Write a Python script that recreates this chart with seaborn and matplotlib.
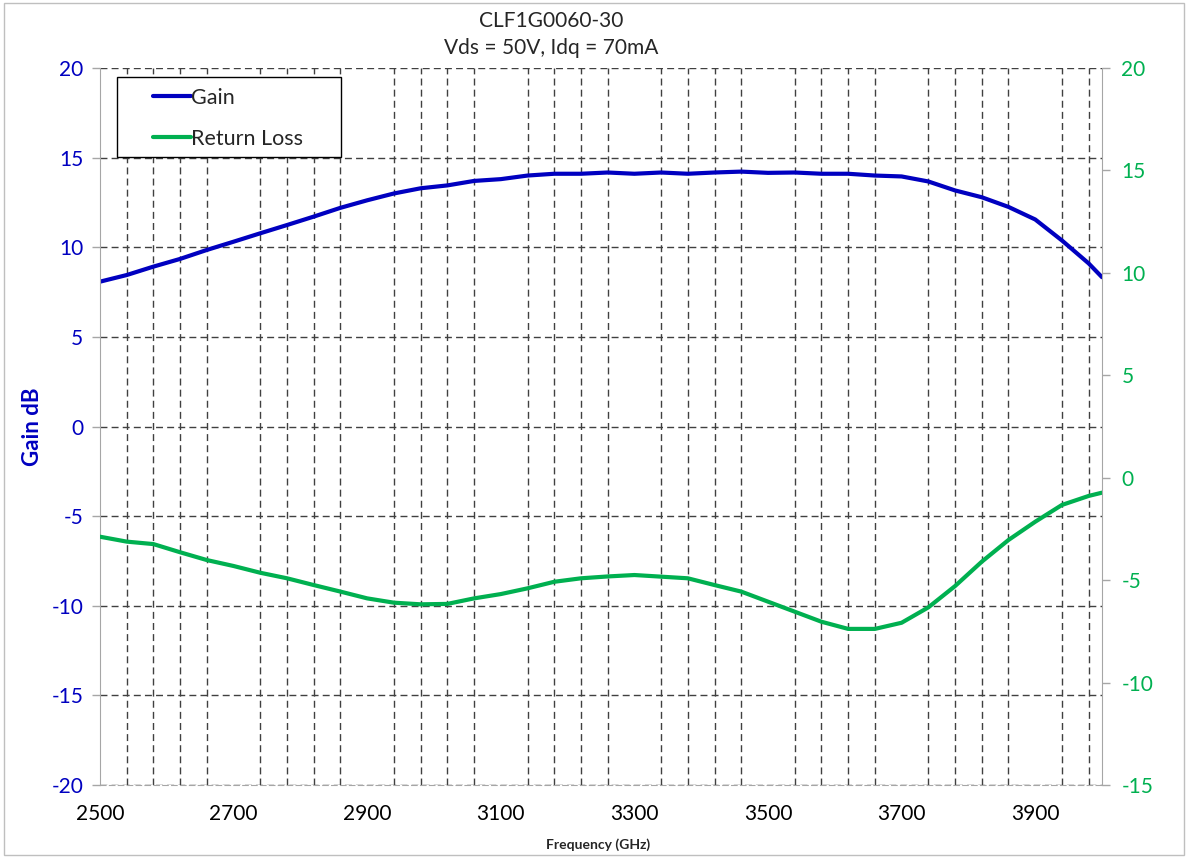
import numpy as np
import pandas as pd
import matplotlib
matplotlib.use("Agg")
import matplotlib.pyplot as plt
from matplotlib.ticker import MultipleLocator, FixedLocator
from matplotlib.patches import Rectangle
import seaborn as sns

# ---- data ----
freq = [2500, 2540, 2580, 2620, 2660, 2700, 2740, 2780, 2820, 2860, 2900, 2940, 2980,
        3020, 3060, 3100, 3140, 3180, 3220, 3260, 3300, 3340, 3380, 3420, 3460, 3500,
        3540, 3580, 3620, 3660, 3700, 3740, 3780, 3820, 3860, 3900, 3940, 3980, 4000]
gain = [8.08, 8.45, 8.92, 9.35, 9.85, 10.31, 10.78, 11.24, 11.71, 12.2, 12.62, 13.0, 13.29,
        13.45, 13.7, 13.8, 14.0, 14.1, 14.1, 14.17, 14.1, 14.17, 14.1, 14.17, 14.22, 14.15,
        14.17, 14.1, 14.1, 14.0, 13.95, 13.67, 13.17, 12.79, 12.25, 11.55, 10.38, 9.1, 8.33]
return_loss = [-2.88, -3.12, -3.24, -3.64, -4.02, -4.31, -4.64, -4.91, -5.24, -5.56, -5.89, -6.1, -6.18,
               -6.16, -5.89, -5.68, -5.4, -5.08, -4.91, -4.82, -4.75, -4.83, -4.91, -5.24, -5.56, -6.05,
               -6.54, -7.03, -7.38, -7.38, -7.08, -6.33, -5.29, -4.1, -3.04, -2.15, -1.33, -0.89, -0.73]
title_lines = ["CLF1G0060-30", "Vds = 50V, Idq = 70mA"]
x_ticks = [2500, 2700, 2900, 3100, 3300, 3500, 3700, 3900]
x_grid = list(range(2540, 4000, 40))

BLUE = "#0000C0"
GREEN = "#00B050"
GRID = "#404040"
AXGREY = "#A6A6A6"

sns.set_style("white")
plt.rcParams["font.family"] = ["Lato", "DejaVu Sans"]
plt.rcParams["axes.unicode_minus"] = False

df = pd.DataFrame({"freq": freq, "gain": gain, "rl": return_loss})

fig = plt.figure(figsize=(11.86, 8.58), dpi=100)
W, H = 1186, 858
ax = fig.add_axes([100 / W, 1 - 785 / H, (1102 - 100) / W, (785 - 68) / H])
ax2 = ax.twinx()

sns.lineplot(data=df, x="freq", y="gain", ax=ax, color=BLUE, lw=3.0, label="Gain", legend=False)
sns.lineplot(data=df, x="freq", y="rl", ax=ax2, color=GREEN, lw=3.0, label="Return Loss", legend=False)

ax.set_xlim(2500, 4000)
ax.set_ylim(-20, 20)
ax2.set_ylim(-15, 20)
ax.set_xticks(x_ticks)
ax.xaxis.set_minor_locator(FixedLocator(x_grid))
ax.yaxis.set_major_locator(MultipleLocator(5))
ax2.yaxis.set_major_locator(MultipleLocator(5))

grid_kw = dict(color=GRID, lw=1.0, linestyle=(0, (5, 3)))
ax.grid(True, which="major", axis="y", **grid_kw)
ax.grid(True, which="minor", axis="x", **grid_kw)
ax.grid(False, which="major", axis="x")
ax.set_axisbelow(True)
ax.tick_params(axis="x", which="minor", length=0)
ax.tick_params(axis="x", which="major", direction="out", length=6, width=1, color=AXGREY,
               labelsize=15, labelcolor="black", pad=8)
ax.tick_params(axis="y", direction="out", length=6, width=1, color=AXGREY,
               labelsize=15, labelcolor=BLUE, pad=6)
ax2.tick_params(axis="y", direction="out", length=6, width=1, color=AXGREY,
                labelsize=15, labelcolor=GREEN, pad=8)

for a in (ax, ax2):
    a.spines["top"].set_visible(False)
    a.spines["left"].set_color(AXGREY)
    a.spines["right"].set_color(AXGREY)
    a.spines["bottom"].set_color(AXGREY)
    a.spines["bottom"].set_linestyle((0, (5, 3)))
ax2.spines["left"].set_visible(False)
ax.spines["right"].set_visible(False)
ax2.spines["bottom"].set_visible(False)

ax.set_xlabel("Frequency (GHz)", fontsize=10, fontweight="bold")
ax.xaxis.set_label_coords(0.497, -(838 - 785) / 717)
ax.set_ylabel("Gain dB", fontsize=16, fontweight="bold", color=BLUE)
ax.yaxis.set_label_coords(-57 / 1002, 0.5)
ax2.set_ylabel("")

# legend box
rect = Rectangle(((117 - 100) / 1002, 1 - (157 - 68) / 717), (341 - 117) / 1002, (157 - 77) / 717,
                 transform=ax2.transAxes, facecolor="white", edgecolor="black", lw=1.0, zorder=5)
ax2.add_patch(rect)
h1, l1 = ax.get_legend_handles_labels()
h2, l2 = ax2.get_legend_handles_labels()
leg = ax2.legend(h1 + h2, l1 + l2, loc="upper left",
                 bbox_to_anchor=((153 - 100) / 1002, 1 - (88 - 68) / 717),
                 frameon=False, fontsize=15.5, handlelength=1.75, handletextpad=0.0,
                 borderpad=0, borderaxespad=0, labelspacing=0.97)
leg.set_zorder(6)
for line in leg.get_lines():
    line.set_linewidth(3.0)

fig.text(551 / W, 1 - 21 / H, title_lines[0], ha="center", va="center", fontsize=15)
fig.text(551 / W, 1 - 48 / H, title_lines[1], ha="center", va="center", fontsize=15)

fig.patches.append(Rectangle((4 / W, 3 / H), (1184 - 4) / W, (855 - 3) / H, transform=fig.transFigure,
                             fill=False, edgecolor="#BFBFBF", lw=1.0))

fig.savefig("out.png", dpi=100)
